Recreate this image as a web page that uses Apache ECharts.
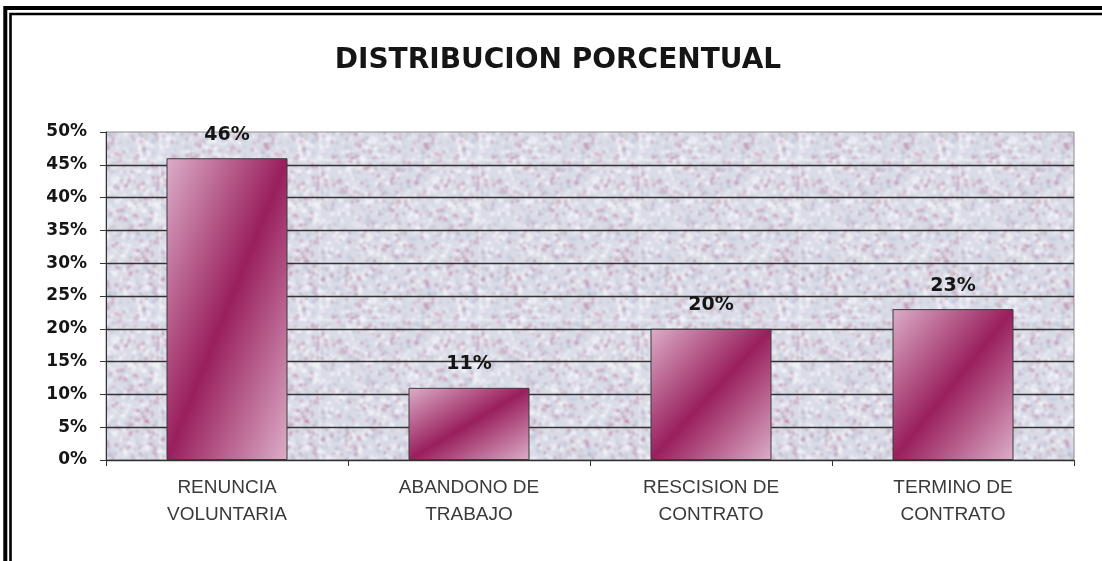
<!DOCTYPE html>
<html>
<head>
<meta charset="utf-8">
<script src="https://cdn.jsdelivr.net/npm/echarts@6/dist/echarts.min.js"></script>
<style>
  html, body { margin: 0; padding: 0; background: #fff; }
  #chart { width: 1102px; height: 561px; }
</style>
</head>
<body>
<div id="chart"></div>
<script>
// Chart content
const chartTitle = 'DISTRIBUCION PORCENTUAL';
const categories = ['RENUNCIA\nVOLUNTARIA', 'ABANDONO DE\nTRABAJO', 'RESCISION DE\nCONTRATO', 'TERMINO DE\nCONTRATO'];
const shares = [46, 11, 20, 23];          // percent
const axisMin = 0;
const axisMax = 50;
const axisStep = 5;

// Bar fill colours (diagonal shading)
const barLight = '#dcaec8';
const barDark = '#991f5d';

// Granite-like fill for the plot area, drawn once into a tile
function graniteTile(size) {
  const raw = document.createElement('canvas');
  raw.width = raw.height = size;
  const c = raw.getContext('2d');
  c.fillStyle = '#d9dbe6';
  c.fillRect(0, 0, size, size);
  let seed = 20240611;
  const next = () => (seed = (seed * 1103515245 + 12345) & 0x7fffffff) / 0x7fffffff;
  const speck = (n, color, rMin, rMax) => {
    c.fillStyle = color;
    for (let i = 0; i < n; i++) {
      const x = next() * size, y = next() * size;
      const r = rMin + next() * (rMax - rMin);
      for (const dx of [-size, 0, size]) for (const dy of [-size, 0, size]) {
        c.beginPath();
        c.ellipse(x + dx, y + dy, r, r * (0.5 + next() * 0.7), next() * Math.PI, 0, Math.PI * 2);
        c.fill();
      }
    }
  };
  speck(650, '#f1f1f7', 1.0, 2.8);
  speck(320, '#c6cbdd', 1.0, 2.4);
  speck(380, 'rgba(190,128,156,0.55)', 0.9, 2.2);
  speck(160, 'rgba(160,75,110,0.55)', 0.6, 1.3);
  const out = document.createElement('canvas');
  out.width = out.height = size;
  const o = out.getContext('2d');
  o.filter = 'blur(0.8px)';
  // draw 3x3 copies so the blur wraps across tile edges
  for (const dx of [-size, 0, size]) for (const dy of [-size, 0, size]) o.drawImage(raw, dx, dy);
  return out;
}

const chart = echarts.init(document.getElementById('chart'), null, { renderer: 'canvas' });

const option = {
  animation: false,
  backgroundColor: '#ffffff',
  graphic: [
    { type: 'text', x: 558, y: 61, z: 10,
      style: { text: chartTitle, align: 'center', verticalAlign: 'middle',
               font: 'bold 28px "DejaVu Sans"', fill: '#151515' } },
    // double frame around the chart
    { type: 'rect', silent: true, z: 20,
      shape: { x: 5.3, y: 8, width: 1300, height: 800 },
      style: { fill: 'none', stroke: '#000', lineWidth: 4 } },
    { type: 'rect', silent: true, z: 20,
      shape: { x: 10.5, y: 14, width: 1300, height: 800 },
      style: { fill: 'none', stroke: '#000', lineWidth: 2.6 } }
  ],
  grid: {
    left: 106, right: 28, top: 132, bottom: 101,
    show: true,
    backgroundColor: { image: graniteTile(160), repeat: 'repeat' },
    borderColor: '#8e8e8e',
    borderWidth: 1
  },
  xAxis: {
    type: 'category',
    data: categories,
    axisLine: { show: true, lineStyle: { color: '#333', width: 1 } },
    axisTick: { show: true, length: 6, lineStyle: { color: '#333' } },
    axisLabel: {
      margin: 14, fontFamily: 'Liberation Sans', fontSize: 19,
      color: '#3a3a3a', lineHeight: 27, align: 'center'
    },
    splitLine: { show: false }
  },
  yAxis: {
    type: 'value',
    min: axisMin, max: axisMax, interval: axisStep,
    axisLine: { show: true, lineStyle: { color: '#333', width: 1 } },
    axisTick: { show: true, length: 6, lineStyle: { color: '#333' } },
    axisLabel: {
      formatter: '{value}%', margin: 19,
      fontFamily: 'DejaVu Sans', fontWeight: 'bold', fontSize: 17, color: '#151515'
    },
    splitLine: { show: true, showMaxLine: false, lineStyle: { color: '#333', width: 1.3 } }
  },
  series: [{
    type: 'bar',
    data: shares,
    barWidth: '50%',
    itemStyle: { color: barDark, borderColor: '#3a3a3a', borderWidth: 1 },
    label: {
      show: true, position: 'top', distance: 14, formatter: '{c}%',
      fontFamily: 'DejaVu Sans', fontWeight: 'bold', fontSize: 19, color: '#151515'
    }
  }]
};

chart.setOption(option);

// Shade each bar along its own anti-diagonal: the gradient vector is chosen
// from the bar's laid-out pixel size so the darkest band joins the top-right
// and bottom-left corners, whatever the bar's proportions.
const barData = chart.getModel().getSeriesByIndex(0).getData();
const shadedItems = shares.map((v, i) => {
  const r = barData.getItemLayout(i);
  const w = Math.abs(r.width), h = Math.abs(r.height);
  const k = 2 / (w * w + h * h);
  return {
    value: v,
    itemStyle: {
      color: {
        type: 'linear', x: 0, y: 0, x2: h * h * k, y2: w * w * k,
        colorStops: [
          { offset: 0, color: barLight },
          { offset: 0.5, color: barDark },
          { offset: 1, color: barLight }
        ]
      }
    }
  };
});
chart.setOption({ series: [{ data: shadedItems }] });
</script>
</body>
</html>
